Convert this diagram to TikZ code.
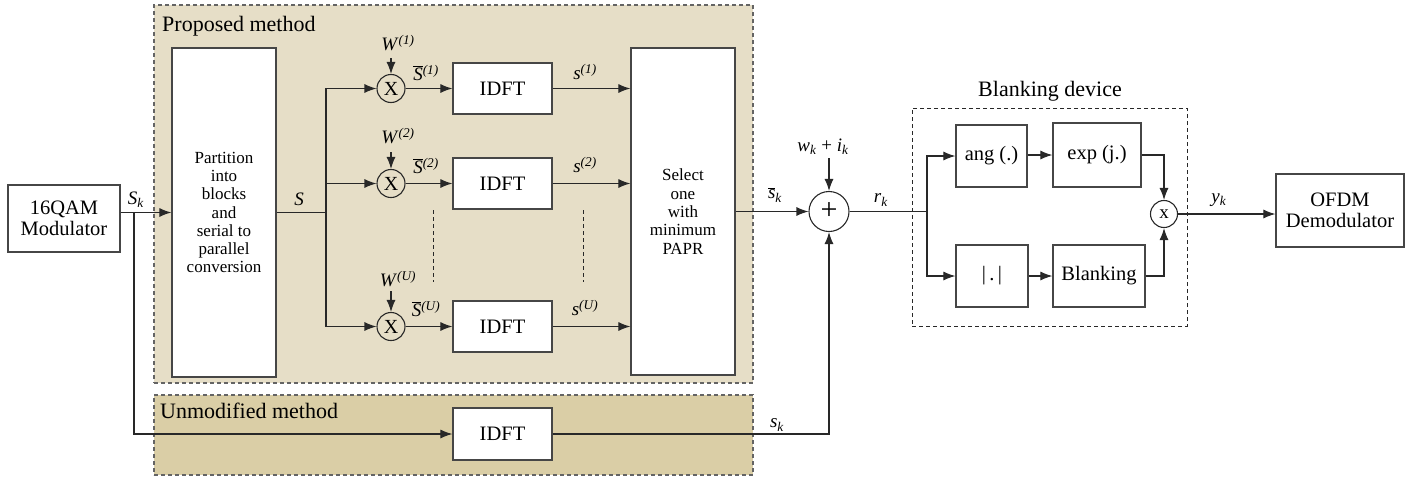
\documentclass[tikz,border=0pt]{standalone}
\usepackage{fontspec}
\setmainfont{Liberation Serif}
\usetikzlibrary{arrows.meta}
\definecolor{propfill}{RGB}{230,222,199}
\definecolor{unmodfill}{RGB}{218,206,166}
\definecolor{linec}{RGB}{40,40,40}
\definecolor{boxc}{RGB}{70,70,70}
\definecolor{dashc}{RGB}{100,100,100}
\begin{document}
\begin{tikzpicture}[x=1pt,y=-1pt,
  arr/.style={draw=linec, line width=1.1pt, -{Latex[length=12pt,width=9pt]}},
  ln/.style={draw=linec, line width=1.1pt},
  blk/.style={draw=boxc, fill=white, line width=1.2pt, inner sep=0pt, align=center, font=\fontsize{20.5}{21}\selectfont},
  tall/.style={blk, font=\fontsize{17}{18.3}\selectfont},
  region/.style={draw=dashc, line width=1.1pt, dash pattern=on 4pt off 3pt, inner sep=0pt},
  mult/.style={circle, draw=linec, line width=1.1pt, fill=none, minimum size=28pt, inner sep=0pt, font=\fontsize{20}{20}\selectfont},
  lab/.style={inner sep=0pt, font=\fontsize{19}{19}\selectfont},
  title/.style={inner sep=0pt, font=\fontsize{22}{22}\selectfont},
  vdots/.style={draw=linec, line width=0.8pt, dash pattern=on 4pt off 3pt}
]
\useasboundingbox (0,0) rectangle (1420,477);
% regions
\node[region, fill=propfill, minimum width=599pt, minimum height=378pt] (prop) at (453.5,194) {};
\node[region, fill=unmodfill, minimum width=599pt, minimum height=80pt] (unmod) at (453.5,435) {};
\node[region, draw=linec, line width=0.9pt, minimum width=275pt, minimum height=218pt] (bdev) at (1049.5,217) {};
\node[title, anchor=base west] (propt) at (162,31) {Proposed method};
\node[title, anchor=base west] (unmodt) at (160,418) {Unmodified method};
\node[title, anchor=base] (bdevt) at (1050,96) {Blanking device};
% blocks
\node[blk, minimum width=112pt, minimum height=67pt] (mod) at (64,218.5) {16QAM\\Modulator};
\node[tall, minimum width=104pt, minimum height=329pt] (part) at (224,212.5) {Partition\\into\\blocks\\and\\serial to\\parallel\\conversion};
\node[tall, minimum width=104pt, minimum height=327pt] (sel) at (683,211.5) {Select\\one\\with\\minimum\\PAPR};
\node[blk, minimum width=99pt, minimum height=51pt] (idft1) at (502.5,88.5) {IDFT};
\node[blk, minimum width=99pt, minimum height=51pt] (idft2) at (502.5,183.5) {IDFT};
\node[blk, minimum width=99pt, minimum height=51pt] (idft3) at (502.5,326.5) {IDFT};
\node[blk, minimum width=99pt, minimum height=52pt] (uidft) at (502.5,434) {IDFT};
\node[mult] (m1) at (391,88.5) {X};
\node[mult] (m2) at (391,183.5) {X};
\node[mult] (m3) at (391,326.5) {X};
\node[mult, minimum size=40pt, font=\fontsize{30}{30}\selectfont] (sum) at (829,211.5) {+};
\node[blk, minimum width=71pt, minimum height=62pt] (ang) at (991.5,156) {ang (.)};
\node[blk, minimum width=88pt, minimum height=64pt] (exp) at (1097,155) {exp (j.)};
\node[blk, minimum width=72pt, minimum height=62pt] (abs) at (992,276) {|\,.\,|};
\node[blk, minimum width=92pt, minimum height=62pt] (blank) at (1099,276) {Blanking};
\node[mult, minimum size=27pt, font=\fontsize{19}{19}\selectfont] (prod) at (1164,214) {x};
\node[blk, minimum width=128pt, minimum height=73pt] (ofdm) at (1340,210.5) {OFDM\\Demodulator};
% labels
\node[lab] (lSk) at (136,200) {\textit{S}\textsubscript{\textit{k}}};
\node[lab] (lS) at (299,199) {\textit{S}};
\node[lab] (lW1) at (398,43) {\textit{W}\textsuperscript{\textit{(1)}}};
\node[lab] (lW2) at (398,136) {\textit{W}\textsuperscript{\textit{(2)}}};
\node[lab] (lW3) at (398,279) {\textit{W}\textsuperscript{\textit{(U)}}};
\node[lab] (lSb1) at (426,73) {$\overline{\mbox{\textit{S}}}$\textsuperscript{\textit{(1)}}};
\node[lab] (lSb2) at (426,166) {$\overline{\mbox{\textit{S}}}$\textsuperscript{\textit{(2)}}};
\node[lab] (lSb3) at (426,309) {$\overline{\mbox{\textit{S}}}$\textsuperscript{\textit{(U)}}};
\node[lab] (ls1) at (585,72) {\textit{s}\textsuperscript{\textit{(1)}}};
\node[lab] (ls2) at (585,165) {\textit{s}\textsuperscript{\textit{(2)}}};
\node[lab] (ls3) at (585,308) {\textit{s}\textsuperscript{\textit{(U)}}};
\node[lab] (lsbk) at (775,195) {$\overline{\mbox{\textit{s}}}$\textsubscript{\textit{k}}};
\node[lab] (lwi) at (823,147) {\textit{w}\textsubscript{\textit{k}} + \textit{i}\textsubscript{\textit{k}}};
\node[lab] (lsk) at (777,425) {\textit{s}\textsubscript{\textit{k}}};
\node[lab] (lrk) at (881,200) {\textit{r}\textsubscript{\textit{k}}};
\node[lab] (lyk) at (1219,200) {\textit{y}\textsubscript{\textit{k}}};
% coordinates
\coordinate (bk) at (134,212.5);
\coordinate (sp) at (326,212.5);
\coordinate (rs) at (927,211.5);
\coordinate (wa) at (391,58);
\coordinate (wb) at (391,152);
\coordinate (wc) at (391,291);
\coordinate (wi) at (829,158);
\coordinate (d1a) at (433,210);
\coordinate (d1b) at (433,282);
\coordinate (d2a) at (583,210);
\coordinate (d2b) at (583,282);
% connectors
\draw[arr] (mod.east |- part.west) -- (part.west);
\draw[arr] (bk) |- (uidft.west);
\draw[ln] (part.east) -- (sp);
\draw[arr] (sp) |- (m1.west);
\draw[arr] (sp) |- (m2.west);
\draw[arr] (sp) |- (m3.west);
\draw[arr] (wa) -- (m1.north);
\draw[arr] (wb) -- (m2.north);
\draw[arr] (wc) -- (m3.north);
\draw[arr] (m1.east) -- (idft1.west);
\draw[arr] (m2.east) -- (idft2.west);
\draw[arr] (m3.east) -- (idft3.west);
\draw[arr] (idft1.east) -- (idft1.east -| sel.west);
\draw[arr] (idft2.east) -- (idft2.east -| sel.west);
\draw[arr] (idft3.east) -- (idft3.east -| sel.west);
\draw[vdots] (d1a) -- (d1b);
\draw[vdots] (d2a) -- (d2b);
\draw[arr] (sel.east |- sum.west) -- (sum.west);
\draw[arr] (wi) -- (sum.north);
\draw[arr] (uidft.east) -| (sum.south);
\draw[ln] (sum.east) -- (rs);
\draw[arr] (rs) |- (ang.west);
\draw[arr] (rs) |- (abs.west);
\draw[arr] (ang.east |- exp.west) -- (exp.west);
\draw[arr] (abs.east) -- (blank.west);
\draw[arr] (exp.east) -| (prod.north);
\draw[arr] (blank.east) -| (prod.south);
\draw[arr] (prod.east) -- (prod.east -| ofdm.west);
\end{tikzpicture}
\end{document}
